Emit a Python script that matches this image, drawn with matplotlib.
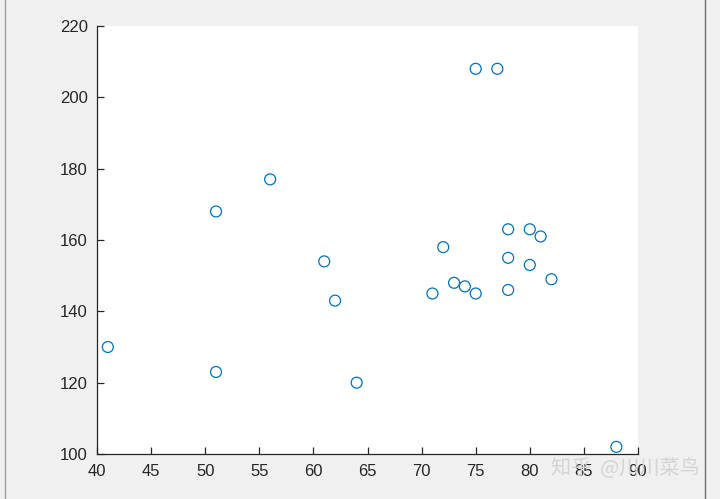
import matplotlib
matplotlib.use("Agg")
import matplotlib.pyplot as plt
from matplotlib.lines import Line2D

x = [41, 51, 51, 56, 61, 62, 64, 71, 72, 73, 74, 75, 75, 77, 78, 78, 78, 80, 80, 81, 82, 88]
y = [130, 168, 123, 177, 154, 143, 120, 145, 158, 148, 147, 145, 208, 208, 163, 155, 146, 163, 153, 161, 149, 102]

xticks = list(range(40, 91, 5))
yticks = list(range(100, 221, 20))

plt.rcParams['font.family'] = ['Liberation Sans', 'DejaVu Sans']

fig = plt.figure(figsize=(7.2, 4.99), dpi=100, facecolor='#f0f0f0')
ax = fig.add_axes([97/720, 1-454/499, (638-97)/720, (454-26)/499])

ax.scatter(x, y, s=62, facecolors='none', edgecolors='#0072BD', linewidths=0.9, zorder=3)

ax.set_xlim(40, 90)
ax.set_ylim(100, 220)
ax.set_xticks(xticks)
ax.set_yticks(yticks)
ax.spines['top'].set_visible(False)
ax.spines['right'].set_visible(False)
for s in ['left', 'bottom']:
    ax.spines[s].set_color('#262626')
    ax.spines[s].set_linewidth(0.9)
ax.tick_params(direction='in', length=5, width=0.9, color='#262626',
               labelsize=12, labelcolor='#262626')
ax.tick_params(axis='x', pad=7.5)
ax.tick_params(axis='y', pad=6.5)

# window frame lines from the screenshot
fig.add_artist(Line2D([5/720, 5/720], [0, 1], color='#a0a0a0', lw=1))
fig.add_artist(Line2D([705/720, 705/720], [0, 1], color='#707070', lw=1))

# watermark
fig.text(625/720, 1-468/499, '知乎  @川川菜鸟', fontsize=14.5, color='#d4d4d4',
         ha='center', va='center', family=['Noto Sans CJK SC', 'DejaVu Sans'])

fig.savefig('out.png', dpi=100, facecolor=fig.get_facecolor())
